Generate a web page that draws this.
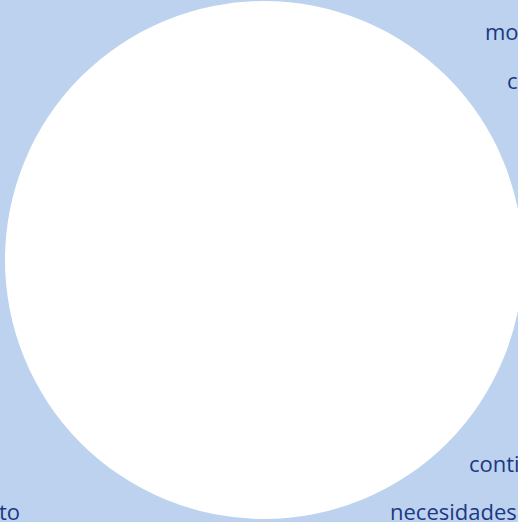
<!DOCTYPE html>
<html>
<head>
<meta charset="utf-8">
<script src="https://cdn.jsdelivr.net/npm/d3@7"></script>
<style>
  html, body { margin: 0; padding: 0; background: #bcd2ee; overflow: hidden; }
  svg { display: block; }
</style>
</head>
<body>
<div id="chart"></div>
<script>
// words visible around the bubble (cut by the frame)
let words = ["mo", "c", "conti", "necesidades", "to"];

// where each word sits (left x, baseline y)
let layout = [
  { x: 485, y: 40 },
  { x: 507, y: 89 },
  { x: 469, y: 472 },
  { x: 390, y: 520 },
  { x: -1, y: 520 }
];

let width = 518,
  height = 522;

let svg = d3
  .select("#chart")
  .append("svg")
  .attr("width", width)
  .attr("height", height);

svg.append("rect").attr("width", width).attr("height", height).attr("fill", "#bcd2ee");

// big white bubble
svg
  .append("circle")
  .attr("cx", 264)
  .attr("cy", 260)
  .attr("r", 259)
  .attr("fill", "#ffffff");

svg
  .selectAll("text.word")
  .data(words)
  .enter()
  .append("text")
  .attr("class", "word")
  .attr("x", (d, i) => layout[i].x)
  .attr("y", (d, i) => layout[i].y)
  .attr("font-family", "'Open Sans', sans-serif")
  .attr("font-size", 22)
  .attr("fill", "#1b3884")
  .text((d) => d);
</script>
</body>
</html>
